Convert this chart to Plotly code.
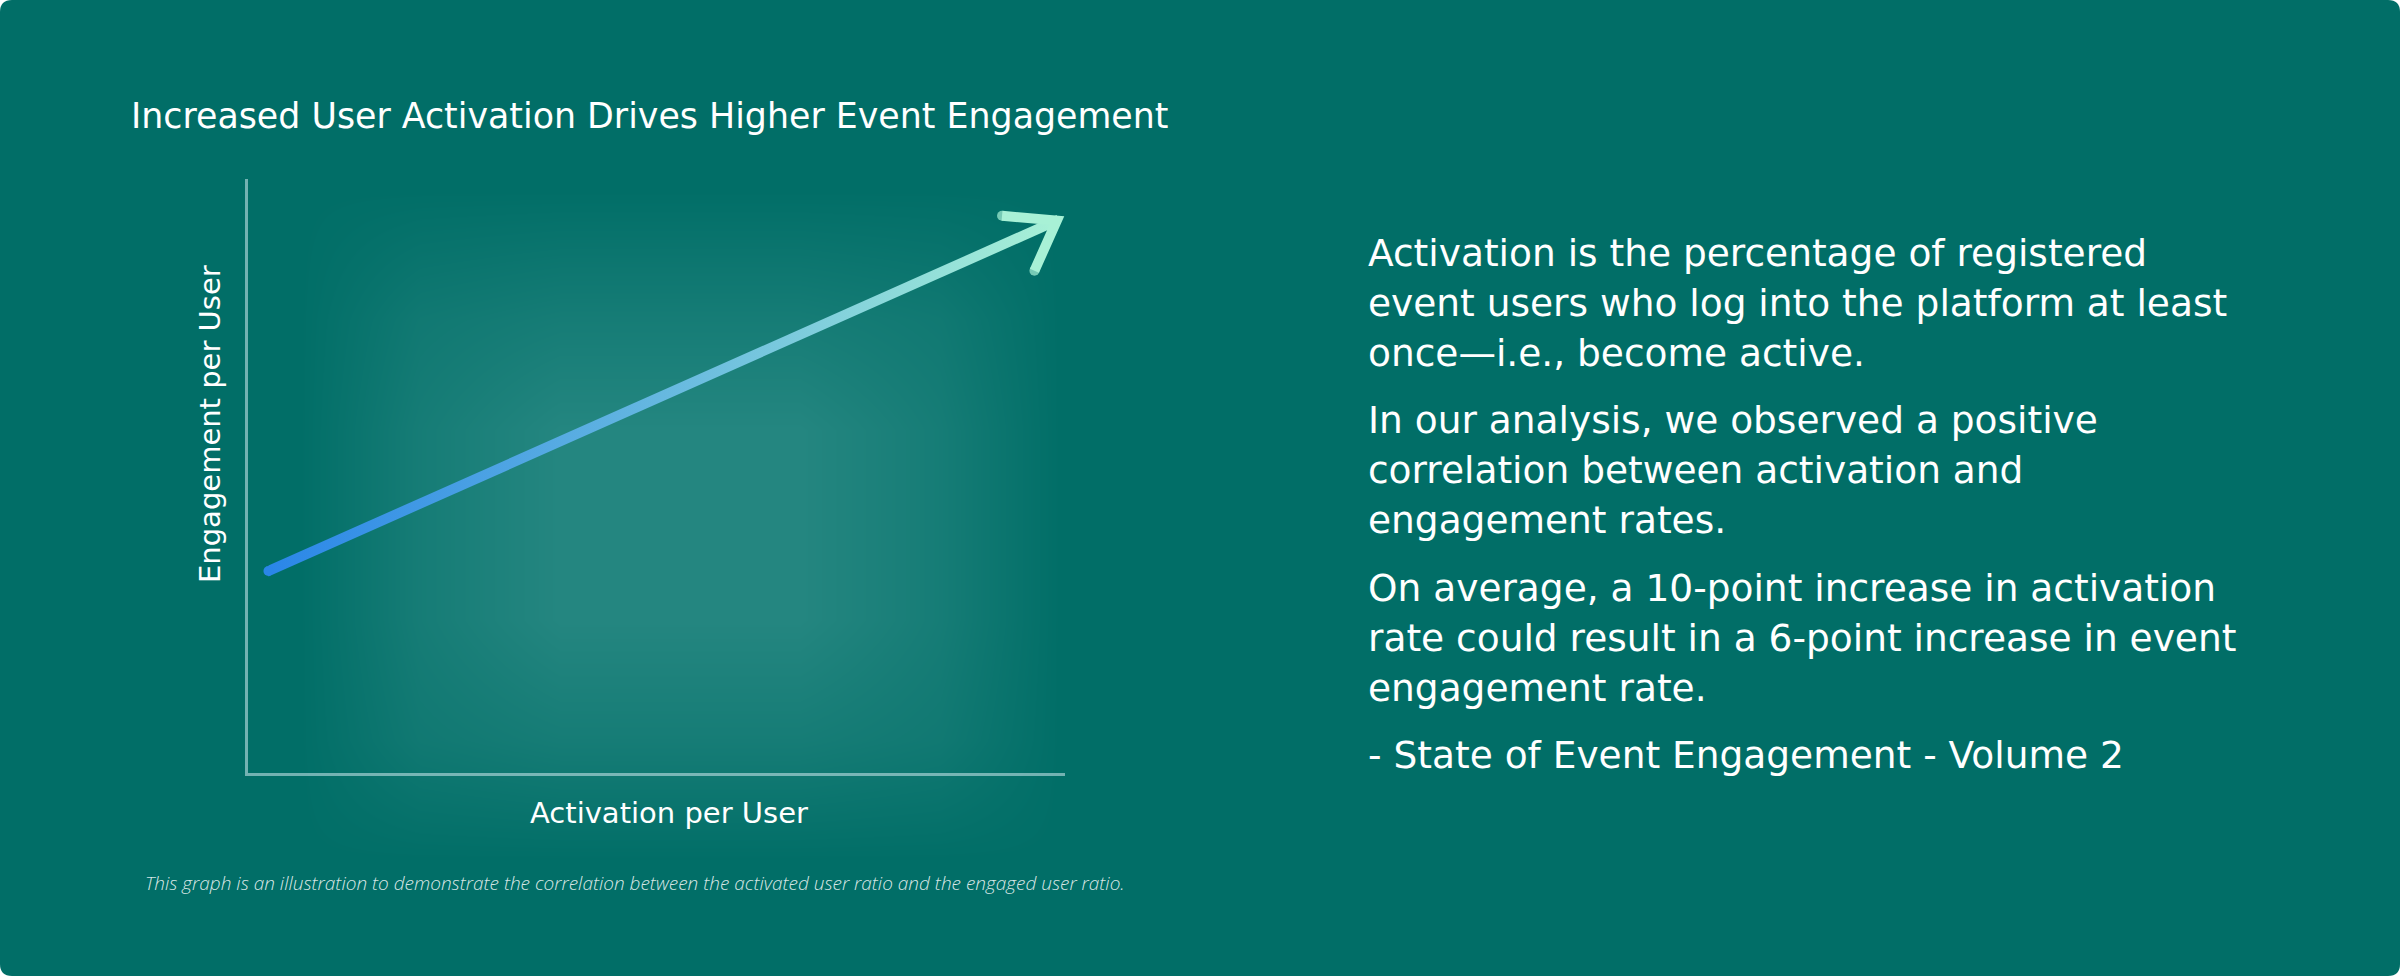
import math
import plotly.graph_objects as go

# --- data -------------------------------------------------------------
activation = [2.5, 99.0]      # % activated users (start, end of trend arrow)
engagement = [34.0, 93.0]     # % engaged users

title = "Increased User Activation Drives Higher Event Engagement"
x_title = "Activation per User"
y_title = "Engagement per User"
footnote = ("This graph is an illustration to demonstrate the correlation "
            "between the activated user ratio and the engaged user ratio.")

paragraphs = [
    ["Activation is the percentage of registered",
     "event users who log into the platform at least",
     "once\u2014i.e., become active."],
    ["In our analysis, we observed a positive",
     "correlation between activation and",
     "engagement rates."],
    ["On average, a 10-point increase in activation",
     "rate could result in a 6-point increase in event",
     "engagement rate."],
    ["- State of Event Engagement - Volume 2"],
]

# soft glow behind the plot (pixel positions + hand-set intensity grid)
glow_x = [300, 420, 560, 800, 940, 1060]
glow_y = [190, 320, 430, 620, 740, 860]
glow_z = [
    [0, 0, 0, 0, 0, 0],
    [0, 0.45, 0.6, 0.6, 0.45, 0],
    [0, 0.6, 1, 1, 0.6, 0],
    [0, 0.6, 1, 1, 0.6, 0],
    [0, 0.45, 0.6, 0.6, 0.45, 0],
    [0, 0, 0, 0, 0, 0],
]

# --- styling ----------------------------------------------------------
W, H = 2400, 976
BG = "#016E67"
GLOW = "#248680"
AXIS = "rgba(210,235,240,0.55)"
BLUE = "#2A86E8"
MINT = "#A8F1D6"
ARROW_SCALE = [[0, BLUE], [0.5, "#66B8E0"], [1, MINT]]
SANS = "DejaVu Sans"

# plot box in pixels
px0, px1 = 248, 1065
py_top, py_bot = 179, 773
x_range = [0, 100]
y_range = [0, 100]

fig = go.Figure()

# glow on a full-page pixel axis
fig.add_trace(go.Heatmap(
    x=glow_x, y=glow_y, z=glow_z, zmin=0, zmax=1, zsmooth="best",
    colorscale=[[0, BG], [1, GLOW]], showscale=False, hoverinfo="skip",
    xaxis="x", yaxis="y",
))

# pixel scale of the data axes
ppx = (px1 - px0) / (x_range[1] - x_range[0])
ppy = (py_bot - py_top) / (y_range[1] - y_range[0])
dxp = (activation[1] - activation[0]) * ppx
dyp = (engagement[1] - engagement[0]) * ppy
ang = math.atan2(dyp, dxp)
thick = 10

# arrow shaft as a thin band with a horizontal gradient
h = thick / 2 / math.cos(ang) / ppy
fig.add_trace(go.Scatter(
    x=[activation[0], activation[1], activation[1], activation[0], activation[0]],
    y=[engagement[0] - h, engagement[1] - h, engagement[1] + h, engagement[0] + h, engagement[0] - h],
    mode="lines", line=dict(width=0), fill="toself",
    fillgradient=dict(type="horizontal", colorscale=ARROW_SCALE),
    hoverinfo="skip", showlegend=False, xaxis="x2", yaxis="y2",
))
# rounded tail
fig.add_trace(go.Scatter(
    x=[activation[0]], y=[engagement[0]], mode="markers",
    marker=dict(size=thick, color=BLUE, line=dict(width=0)),
    hoverinfo="skip", showlegend=False, xaxis="x2", yaxis="y2",
))

# chevron head: two barbs off the tip, angles relative to the shaft
barb_len = 55
barb_ang = [math.radians(-29), math.radians(42)]
back = math.pi + ang
hx, hy = [], []
for i, b in enumerate(barb_ang):
    a = back + b
    bx = activation[1] + barb_len * math.cos(a) / ppx
    by = engagement[1] + barb_len * math.sin(a) / ppy
    hx.append(bx)
    hy.append(by)
    if i == 0:
        hx.append(activation[1])
        hy.append(engagement[1])
fig.add_trace(go.Scatter(
    x=hx, y=hy, mode="lines+markers",
    line=dict(color=MINT, width=thick),
    marker=dict(size=[thick, 0, thick], color=MINT, line=dict(width=0)),
    hoverinfo="skip", showlegend=False, xaxis="x2", yaxis="y2",
))

annotations = []
TXT = "white"
annotations.append(dict(
    x=129 / W, y=1 - 115.5 / H, xref="paper", yref="paper", xanchor="left", yanchor="middle",
    text=title, showarrow=False, font=dict(family=SANS, size=34.8, color=TXT),
))
annotations.append(dict(
    x=669 / W, y=1 - 813 / H, xref="paper", yref="paper", xanchor="center", yanchor="middle",
    text=x_title, showarrow=False, font=dict(family=SANS, size=29, color=TXT),
))
annotations.append(dict(
    x=210 / W, y=1 - 424 / H, xref="paper", yref="paper", xanchor="center", yanchor="middle",
    text=y_title, textangle=-90, showarrow=False,
    font=dict(family=SANS, size=29, color=TXT),
))
annotations.append(dict(
    x=143 / W, y=1 - 882.5 / H, xref="paper", yref="paper", xanchor="left", yanchor="middle",
    text=footnote, showarrow=False,
    font=dict(family="Open Sans", size=19, color="rgba(255,255,255,0.85)",
              style="italic", weight=300),
))

# right-hand text, one annotation per line
y_line = 253
step, gap = 49.9, 17.8
for p in paragraphs:
    for line in p:
        annotations.append(dict(
            x=1366 / W, y=1 - y_line / H, xref="paper", yref="paper",
            xanchor="left", yanchor="middle", text=line, showarrow=False,
            font=dict(family=SANS, size=37.5, color=TXT),
        ))
        y_line += step
    y_line += gap

# rounded teal card
rx, ry = 12 / W, 12 / H
card = (f"M {rx},0 L {1 - rx},0 Q 1,0 1,{ry} L 1,{1 - ry} Q 1,1 {1 - rx},1 "
        f"L {rx},1 Q 0,1 0,{1 - ry} L 0,{ry} Q 0,0 {rx},0 Z")

fig.update_layout(
    width=W, height=H,
    margin=dict(l=0, r=0, t=0, b=0),
    paper_bgcolor="white", plot_bgcolor="rgba(0,0,0,0)",
    showlegend=False,
    shapes=[dict(type="path", path=card, xref="paper", yref="paper",
                 fillcolor=BG, line=dict(width=0), layer="below")],
    annotations=annotations,
    xaxis=dict(domain=[0, 1], range=[0, W], visible=False, fixedrange=True),
    yaxis=dict(domain=[0, 1], range=[H, 0], visible=False, fixedrange=True),
    xaxis2=dict(domain=[px0 / W, px1 / W], anchor="y2", range=x_range,
                showline=True, linecolor=AXIS, linewidth=3, showgrid=False,
                zeroline=False, showticklabels=False, ticks="", fixedrange=True),
    yaxis2=dict(domain=[1 - py_bot / H, 1 - py_top / H], anchor="x2", range=y_range,
                showline=True, linecolor=AXIS, linewidth=3, showgrid=False,
                zeroline=False, showticklabels=False, ticks="", fixedrange=True),
)

fig.write_html(
    "out.html",
    config={"displayModeBar": False},
    post_script="document.body.style.margin='0px';document.body.style.overflow='hidden';",
)
